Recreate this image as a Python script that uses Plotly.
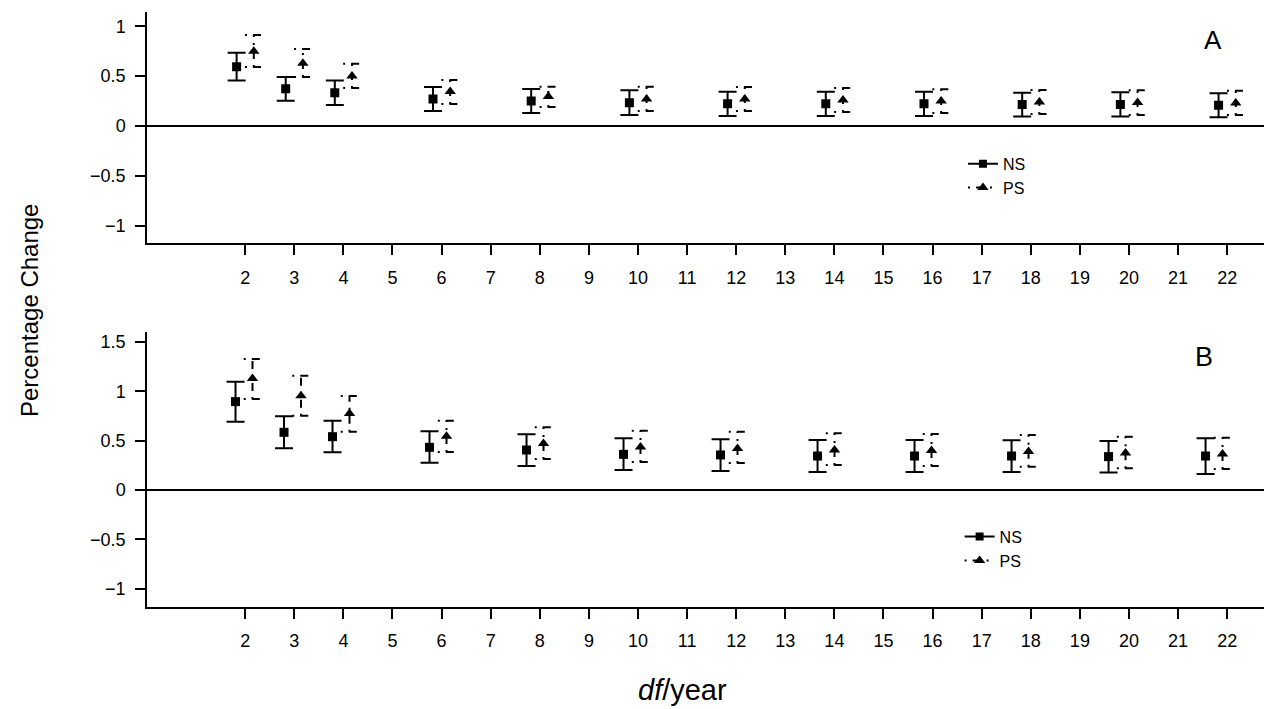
import plotly.graph_objects as go

# degrees of freedom per year
df_year = [2, 3, 4, 6, 8, 10, 12, 14, 16, 18, 20, 22]

# Panel A: estimates with lower / upper confidence limits
ns_a = [0.595, 0.372, 0.333, 0.270, 0.250, 0.232, 0.222, 0.222, 0.222, 0.214, 0.216, 0.208]
ns_a_lo = [0.455, 0.254, 0.210, 0.150, 0.130, 0.110, 0.100, 0.100, 0.100, 0.094, 0.094, 0.087]
ns_a_hi = [0.735, 0.490, 0.455, 0.391, 0.371, 0.358, 0.344, 0.344, 0.344, 0.334, 0.338, 0.328]
ps_a = [0.750, 0.630, 0.500, 0.345, 0.295, 0.270, 0.270, 0.260, 0.250, 0.240, 0.235, 0.230]
ps_a_lo = [0.592, 0.490, 0.381, 0.220, 0.190, 0.150, 0.150, 0.140, 0.130, 0.120, 0.110, 0.110]
ps_a_hi = [0.913, 0.772, 0.625, 0.461, 0.394, 0.394, 0.391, 0.381, 0.368, 0.361, 0.358, 0.354]

# Panel B
ns_b = [0.895, 0.584, 0.540, 0.432, 0.405, 0.361, 0.355, 0.344, 0.344, 0.344, 0.338, 0.344]
ns_b_lo = [0.692, 0.422, 0.382, 0.277, 0.243, 0.203, 0.193, 0.182, 0.182, 0.182, 0.176, 0.162]
ns_b_hi = [1.097, 0.746, 0.702, 0.594, 0.564, 0.523, 0.513, 0.507, 0.507, 0.503, 0.496, 0.523]
ps_b = [1.130, 0.955, 0.775, 0.545, 0.470, 0.435, 0.420, 0.405, 0.400, 0.390, 0.375, 0.365]
ps_b_lo = [0.922, 0.753, 0.591, 0.385, 0.314, 0.284, 0.274, 0.253, 0.243, 0.236, 0.220, 0.213]
ps_b_hi = [1.327, 1.158, 0.952, 0.702, 0.635, 0.601, 0.591, 0.574, 0.567, 0.557, 0.540, 0.530]

x_ticks = list(range(2, 23))

FONT = "Liberation Sans, Arial, Helvetica, sans-serif"
DODGE = 0.175        # horizontal offset of NS (left) and PS (right)
CAP = 0.18           # half width of the PS caps, in x units
DOTDASH = "2px,6px,8px,6px"


def ps_bar_path(xs, lo, hi):
    """Stems and caps of the PS intervals as one broken polyline."""
    px, py = [], []
    for x, l, h in zip(xs, lo, hi):
        px += [x, x, None, x - CAP, x + CAP, None, x - CAP, x + CAP, None]
        py += [l, h, None, h, h, None, l, l, None]
    return px, py


def add_panel(fig, xaxis, yaxis, ns, ns_lo, ns_hi, ps, ps_lo, ps_hi):
    x_ns = [x - DODGE for x in df_year]
    x_ps = [x + DODGE for x in df_year]
    fig.add_trace(go.Scatter(
        x=x_ns, y=ns, mode="markers", xaxis=xaxis, yaxis=yaxis, showlegend=False,
        marker=dict(symbol="square", size=9, color="black"),
        error_y=dict(type="data", symmetric=False,
                     array=[h - v for h, v in zip(ns_hi, ns)],
                     arrayminus=[v - l for v, l in zip(ns, ns_lo)],
                     color="black", thickness=2, width=9),
    ))
    bx, by = ps_bar_path(x_ps, ps_lo, ps_hi)
    fig.add_trace(go.Scatter(
        x=bx, y=by, mode="lines", xaxis=xaxis, yaxis=yaxis, showlegend=False,
        line=dict(color="black", width=2, dash=DOTDASH), hoverinfo="skip",
    ))
    fig.add_trace(go.Scatter(
        x=x_ps, y=ps, mode="markers", xaxis=xaxis, yaxis=yaxis, showlegend=False,
        marker=dict(symbol="triangle-up", size=10, color="black"),
    ))


fig = go.Figure()
add_panel(fig, "x", "y", ns_a, ns_a_lo, ns_a_hi, ps_a, ps_a_lo, ps_a_hi)
# empty trace so the bottom tick axis is drawn
fig.add_trace(go.Scatter(x=[None], y=[None], xaxis="x2", yaxis="y2",
                         mode="markers", showlegend=False, hoverinfo="skip"))
add_panel(fig, "x3", "y2", ns_b, ns_b_lo, ns_b_hi, ps_b, ps_b_lo, ps_b_hi)

# legend entries for both panels
for leg in ("legend", "legend2"):
    fig.add_trace(go.Scatter(
        x=[None], y=[None], mode="lines+markers", name="NS", legend=leg,
        line=dict(color="black", width=2),
        marker=dict(symbol="square", size=8, color="black"),
    ))
    fig.add_trace(go.Scatter(
        x=[None], y=[None], mode="lines+markers", name="PS", legend=leg,
        line=dict(color="black", width=2, dash=DOTDASH),
        marker=dict(symbol="triangle-up", size=10, color="black"),
    ))

common_x = dict(
    range=[0, 22.75], tickvals=x_ticks, ticks="outside", ticklen=10, tickwidth=1.5,
    tickcolor="black", showline=True, linewidth=1.5, linecolor="black",
    showgrid=False, zeroline=False, ticklabelstandoff=7,
    tickfont=dict(family=FONT, size=18, color="black"),
)
common_y = dict(
    ticks="outside", ticklen=10, tickwidth=1.5, tickcolor="black",
    showline=True, linewidth=1.5, linecolor="black", showgrid=False,
    zeroline=True, zerolinecolor="black", zerolinewidth=2, ticklabelstandoff=6,
    tickfont=dict(family=FONT, size=18, color="black"),
)

legend_style = dict(
    font=dict(family=FONT, size=16, color="black"), bgcolor="rgba(0,0,0,0)",
    borderwidth=0, xanchor="left", yanchor="top", itemwidth=30,
)

fig.update_layout(
    width=1267, height=709,
    margin=dict(l=147, r=3, t=0, b=0),
    paper_bgcolor="white", plot_bgcolor="white",
    xaxis=dict(domain=[0, 1], anchor="y", **common_x),
    yaxis=dict(domain=[0.6568, 0.9831], anchor="x", range=[-1.177, 1.143],
               tickvals=[-1, -0.5, 0, 0.5, 1], **common_y),
    xaxis2=dict(domain=[0, 1], anchor="y2", **common_x),
    yaxis2=dict(domain=[0.1439, 0.5317], anchor="x2", range=[-1.185, 1.6],
                tickvals=[-1, -0.5, 0, 0.5, 1, 1.5], **common_y),
    # panel B estimates are placed on a slightly wider x scale
    xaxis3=dict(overlaying="x2", anchor="y2", range=[0, 23.03], visible=False),
    legend=dict(x=0.7305, y=0.793, **legend_style),
    legend2=dict(x=0.7275, y=0.267, **legend_style),
    showlegend=True,
    annotations=[
        dict(text="A", x=0.9544, y=0.9436, xref="paper", yref="paper",
             xanchor="center", yanchor="middle", showarrow=False,
             font=dict(family=FONT, size=26, color="black")),
        dict(text="B", x=0.9463, y=0.4969, xref="paper", yref="paper",
             xanchor="center", yanchor="middle", showarrow=False,
             font=dict(family=FONT, size=27, color="black")),
        dict(text="Percentage Change", x=-0.1047, y=0.5628, xref="paper", yref="paper",
             xanchor="center", yanchor="middle", textangle=-90, showarrow=False,
             font=dict(family=FONT, size=24, color="black")),
        dict(text="<i>df</i>/year", x=0.479, y=0.0268, xref="paper", yref="paper",
             xanchor="center", yanchor="middle", showarrow=False,
             font=dict(family=FONT, size=29, color="black")),
    ],
)

fig.write_html("out.html")
